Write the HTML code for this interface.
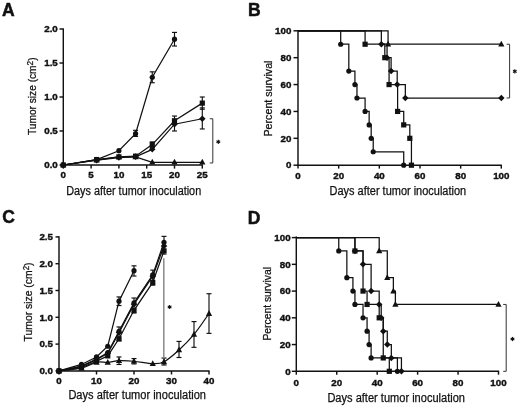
<!DOCTYPE html>
<html><head><meta charset="utf-8"><style>
html,body{margin:0;padding:0;background:#fff;}
svg{display:block;font-family:'Liberation Sans', sans-serif;will-change:transform;}
text{fill:#111;}
</style></head><body>
<svg width="520" height="406" viewBox="0 0 520 406">
<rect width="520" height="406" fill="#fff"/>
<line x1="63.30" y1="28.40" x2="63.30" y2="165.60" stroke="#111" stroke-width="1.45"/>
<line x1="62.70" y1="165.00" x2="202.90" y2="165.00" stroke="#111" stroke-width="1.45"/>
<line x1="59.50" y1="165.00" x2="63.30" y2="165.00" stroke="#111" stroke-width="1.45"/>
<text x="0.00" y="0.00" font-size="9.8" text-anchor="end" font-weight="bold" transform="translate(57.80 168.25) scale(1 0.97)" stroke="#111" stroke-width="0.4">0.0</text>
<line x1="59.50" y1="131.00" x2="63.30" y2="131.00" stroke="#111" stroke-width="1.45"/>
<text x="0.00" y="0.00" font-size="9.8" text-anchor="end" font-weight="bold" transform="translate(57.80 134.25) scale(1 0.97)" stroke="#111" stroke-width="0.4">0.5</text>
<line x1="59.50" y1="97.00" x2="63.30" y2="97.00" stroke="#111" stroke-width="1.45"/>
<text x="0.00" y="0.00" font-size="9.8" text-anchor="end" font-weight="bold" transform="translate(57.80 100.25) scale(1 0.97)" stroke="#111" stroke-width="0.4">1.0</text>
<line x1="59.50" y1="63.00" x2="63.30" y2="63.00" stroke="#111" stroke-width="1.45"/>
<text x="0.00" y="0.00" font-size="9.8" text-anchor="end" font-weight="bold" transform="translate(57.80 66.25) scale(1 0.97)" stroke="#111" stroke-width="0.4">1.5</text>
<line x1="59.50" y1="29.00" x2="63.30" y2="29.00" stroke="#111" stroke-width="1.45"/>
<text x="0.00" y="0.00" font-size="9.8" text-anchor="end" font-weight="bold" transform="translate(57.80 32.25) scale(1 0.97)" stroke="#111" stroke-width="0.4">2.0</text>
<line x1="63.30" y1="165.00" x2="63.30" y2="168.60" stroke="#111" stroke-width="1.45"/>
<text x="0.00" y="0.00" font-size="9.8" text-anchor="middle" font-weight="bold" transform="translate(63.30 177.90) scale(1 0.97)" stroke="#111" stroke-width="0.4">0</text>
<line x1="91.10" y1="165.00" x2="91.10" y2="168.60" stroke="#111" stroke-width="1.45"/>
<text x="0.00" y="0.00" font-size="9.8" text-anchor="middle" font-weight="bold" transform="translate(91.10 177.90) scale(1 0.97)" stroke="#111" stroke-width="0.4">5</text>
<line x1="118.90" y1="165.00" x2="118.90" y2="168.60" stroke="#111" stroke-width="1.45"/>
<text x="0.00" y="0.00" font-size="9.8" text-anchor="middle" font-weight="bold" transform="translate(118.90 177.90) scale(1 0.97)" stroke="#111" stroke-width="0.4">10</text>
<line x1="146.70" y1="165.00" x2="146.70" y2="168.60" stroke="#111" stroke-width="1.45"/>
<text x="0.00" y="0.00" font-size="9.8" text-anchor="middle" font-weight="bold" transform="translate(146.70 177.90) scale(1 0.97)" stroke="#111" stroke-width="0.4">15</text>
<line x1="174.50" y1="165.00" x2="174.50" y2="168.60" stroke="#111" stroke-width="1.45"/>
<text x="0.00" y="0.00" font-size="9.8" text-anchor="middle" font-weight="bold" transform="translate(174.50 177.90) scale(1 0.97)" stroke="#111" stroke-width="0.4">20</text>
<line x1="202.30" y1="165.00" x2="202.30" y2="168.60" stroke="#111" stroke-width="1.45"/>
<text x="0.00" y="0.00" font-size="9.8" text-anchor="middle" font-weight="bold" transform="translate(202.30 177.90) scale(1 0.97)" stroke="#111" stroke-width="0.4">25</text>
<text x="66.20" y="194.60" font-size="12" text-anchor="start" font-weight="normal" textLength="135" lengthAdjust="spacingAndGlyphs" stroke="#111" stroke-width="0.25">Days after tumor inoculation</text>
<text transform="translate(35.8,96.2) rotate(-90)" font-size="10" text-anchor="middle" textLength="77.5" lengthAdjust="spacingAndGlyphs" stroke="#111" stroke-width="0.25">Tumor size (cm<tspan font-size="8.2" dy="-2.6">2</tspan><tspan dy="2.6">)</tspan></text>
<polyline points="63.30,165.00 96.66,159.56 118.90,150.72 135.58,133.72 152.26,77.28 174.50,39.20" fill="none" stroke="#111" stroke-width="1.25" stroke-linejoin="miter"/>
<polyline points="63.30,165.00 96.66,159.56 118.90,156.84 135.58,156.16 152.26,144.60 174.50,120.80 202.30,103.12" fill="none" stroke="#111" stroke-width="1.25" stroke-linejoin="miter"/>
<polyline points="63.30,165.00 96.66,160.24 118.90,157.52 135.58,156.84 152.26,149.36 174.50,124.20 202.30,118.76" fill="none" stroke="#111" stroke-width="1.25" stroke-linejoin="miter"/>
<polyline points="63.30,165.00 96.66,160.24 118.90,156.84 135.58,156.84 152.26,162.28 174.50,162.28 202.30,162.28" fill="none" stroke="#111" stroke-width="1.25" stroke-linejoin="miter"/>
<line x1="135.58" y1="130.32" x2="135.58" y2="136.44" stroke="#111" stroke-width="1.15"/>
<line x1="133.08" y1="130.32" x2="138.08" y2="130.32" stroke="#111" stroke-width="1.15"/>
<line x1="133.08" y1="136.44" x2="138.08" y2="136.44" stroke="#111" stroke-width="1.15"/>
<line x1="152.26" y1="71.84" x2="152.26" y2="82.72" stroke="#111" stroke-width="1.15"/>
<line x1="149.76" y1="71.84" x2="154.76" y2="71.84" stroke="#111" stroke-width="1.15"/>
<line x1="149.76" y1="82.72" x2="154.76" y2="82.72" stroke="#111" stroke-width="1.15"/>
<line x1="174.50" y1="32.40" x2="174.50" y2="46.00" stroke="#111" stroke-width="1.15"/>
<line x1="172.00" y1="32.40" x2="177.00" y2="32.40" stroke="#111" stroke-width="1.15"/>
<line x1="172.00" y1="46.00" x2="177.00" y2="46.00" stroke="#111" stroke-width="1.15"/>
<line x1="174.50" y1="116.04" x2="174.50" y2="131.00" stroke="#111" stroke-width="1.15"/>
<line x1="172.00" y1="116.04" x2="177.00" y2="116.04" stroke="#111" stroke-width="1.15"/>
<line x1="172.00" y1="131.00" x2="177.00" y2="131.00" stroke="#111" stroke-width="1.15"/>
<line x1="202.30" y1="97.00" x2="202.30" y2="109.24" stroke="#111" stroke-width="1.15"/>
<line x1="199.80" y1="97.00" x2="204.80" y2="97.00" stroke="#111" stroke-width="1.15"/>
<line x1="199.80" y1="109.24" x2="204.80" y2="109.24" stroke="#111" stroke-width="1.15"/>
<line x1="202.30" y1="107.88" x2="202.30" y2="128.96" stroke="#111" stroke-width="1.15"/>
<line x1="199.80" y1="107.88" x2="204.80" y2="107.88" stroke="#111" stroke-width="1.15"/>
<line x1="199.80" y1="128.96" x2="204.80" y2="128.96" stroke="#111" stroke-width="1.15"/>
<line x1="152.26" y1="141.88" x2="152.26" y2="147.32" stroke="#111" stroke-width="1.15"/>
<line x1="149.76" y1="141.88" x2="154.76" y2="141.88" stroke="#111" stroke-width="1.15"/>
<line x1="149.76" y1="147.32" x2="154.76" y2="147.32" stroke="#111" stroke-width="1.15"/>
<path d="M63.30,161.57L66.42,167.34L60.18,167.34Z" fill="#111"/>
<path d="M96.66,156.81L99.78,162.58L93.54,162.58Z" fill="#111"/>
<path d="M118.90,153.41L122.02,159.18L115.78,159.18Z" fill="#111"/>
<path d="M135.58,153.41L138.70,159.18L132.46,159.18Z" fill="#111"/>
<path d="M152.26,158.85L155.38,164.62L149.14,164.62Z" fill="#111"/>
<path d="M174.50,158.85L177.62,164.62L171.38,164.62Z" fill="#111"/>
<path d="M202.30,158.85L205.42,164.62L199.18,164.62Z" fill="#111"/>
<path d="M63.30,161.75L66.55,165.00L63.30,168.25L60.05,165.00Z" fill="#111"/>
<path d="M96.66,156.99L99.91,160.24L96.66,163.49L93.41,160.24Z" fill="#111"/>
<path d="M118.90,154.27L122.15,157.52L118.90,160.77L115.65,157.52Z" fill="#111"/>
<path d="M135.58,153.59L138.83,156.84L135.58,160.09L132.33,156.84Z" fill="#111"/>
<path d="M152.26,146.11L155.51,149.36L152.26,152.61L149.01,149.36Z" fill="#111"/>
<path d="M174.50,120.95L177.75,124.20L174.50,127.45L171.25,124.20Z" fill="#111"/>
<path d="M202.30,115.51L205.55,118.76L202.30,122.01L199.05,118.76Z" fill="#111"/>
<rect x="60.70" y="162.40" width="5.20" height="5.20" fill="#111"/>
<rect x="94.06" y="156.96" width="5.20" height="5.20" fill="#111"/>
<rect x="116.30" y="154.24" width="5.20" height="5.20" fill="#111"/>
<rect x="132.98" y="153.56" width="5.20" height="5.20" fill="#111"/>
<rect x="149.66" y="142.00" width="5.20" height="5.20" fill="#111"/>
<rect x="171.90" y="118.20" width="5.20" height="5.20" fill="#111"/>
<rect x="199.70" y="100.52" width="5.20" height="5.20" fill="#111"/>
<circle cx="63.30" cy="165.00" r="2.60" fill="#111"/>
<circle cx="96.66" cy="159.56" r="2.60" fill="#111"/>
<circle cx="118.90" cy="150.72" r="2.60" fill="#111"/>
<circle cx="135.58" cy="133.72" r="2.60" fill="#111"/>
<circle cx="152.26" cy="77.28" r="2.60" fill="#111"/>
<circle cx="174.50" cy="39.20" r="2.60" fill="#111"/>
<polyline points="209.80,118.76 212.80,118.76 212.80,162.96 209.80,162.96" fill="none" stroke="#333" stroke-width="1.0" stroke-linejoin="miter"/>
<line x1="218.30" y1="139.70" x2="218.30" y2="143.90" stroke="#111" stroke-width="1.1"/>
<line x1="216.48" y1="140.75" x2="220.12" y2="142.85" stroke="#111" stroke-width="1.1"/>
<line x1="220.12" y1="140.75" x2="216.48" y2="142.85" stroke="#111" stroke-width="1.1"/>
<line x1="298.00" y1="30.20" x2="298.00" y2="165.80" stroke="#111" stroke-width="1.45"/>
<line x1="297.40" y1="165.20" x2="501.90" y2="165.20" stroke="#111" stroke-width="1.45"/>
<line x1="293.50" y1="165.20" x2="298.00" y2="165.20" stroke="#111" stroke-width="1.45"/>
<text x="0.00" y="0.00" font-size="9.8" text-anchor="end" font-weight="bold" transform="translate(291.40 168.45) scale(1 0.97)" stroke="#111" stroke-width="0.4">0</text>
<line x1="293.50" y1="138.32" x2="298.00" y2="138.32" stroke="#111" stroke-width="1.45"/>
<text x="0.00" y="0.00" font-size="9.8" text-anchor="end" font-weight="bold" transform="translate(291.40 141.57) scale(1 0.97)" stroke="#111" stroke-width="0.4">20</text>
<line x1="293.50" y1="111.44" x2="298.00" y2="111.44" stroke="#111" stroke-width="1.45"/>
<text x="0.00" y="0.00" font-size="9.8" text-anchor="end" font-weight="bold" transform="translate(291.40 114.69) scale(1 0.97)" stroke="#111" stroke-width="0.4">40</text>
<line x1="293.50" y1="84.56" x2="298.00" y2="84.56" stroke="#111" stroke-width="1.45"/>
<text x="0.00" y="0.00" font-size="9.8" text-anchor="end" font-weight="bold" transform="translate(291.40 87.81) scale(1 0.97)" stroke="#111" stroke-width="0.4">60</text>
<line x1="293.50" y1="57.68" x2="298.00" y2="57.68" stroke="#111" stroke-width="1.45"/>
<text x="0.00" y="0.00" font-size="9.8" text-anchor="end" font-weight="bold" transform="translate(291.40 60.93) scale(1 0.97)" stroke="#111" stroke-width="0.4">80</text>
<line x1="293.50" y1="30.80" x2="298.00" y2="30.80" stroke="#111" stroke-width="1.45"/>
<text x="0.00" y="0.00" font-size="9.8" text-anchor="end" font-weight="bold" transform="translate(291.40 34.05) scale(1 0.97)" stroke="#111" stroke-width="0.4">100</text>
<line x1="298.00" y1="165.20" x2="298.00" y2="168.60" stroke="#111" stroke-width="1.45"/>
<text x="0.00" y="0.00" font-size="9.8" text-anchor="middle" font-weight="bold" transform="translate(298.00 179.40) scale(1 0.97)" stroke="#111" stroke-width="0.4">0</text>
<line x1="338.66" y1="165.20" x2="338.66" y2="168.60" stroke="#111" stroke-width="1.45"/>
<text x="0.00" y="0.00" font-size="9.8" text-anchor="middle" font-weight="bold" transform="translate(338.66 179.40) scale(1 0.97)" stroke="#111" stroke-width="0.4">20</text>
<line x1="379.32" y1="165.20" x2="379.32" y2="168.60" stroke="#111" stroke-width="1.45"/>
<text x="0.00" y="0.00" font-size="9.8" text-anchor="middle" font-weight="bold" transform="translate(379.32 179.40) scale(1 0.97)" stroke="#111" stroke-width="0.4">40</text>
<line x1="419.98" y1="165.20" x2="419.98" y2="168.60" stroke="#111" stroke-width="1.45"/>
<text x="0.00" y="0.00" font-size="9.8" text-anchor="middle" font-weight="bold" transform="translate(419.98 179.40) scale(1 0.97)" stroke="#111" stroke-width="0.4">60</text>
<line x1="460.64" y1="165.20" x2="460.64" y2="168.60" stroke="#111" stroke-width="1.45"/>
<text x="0.00" y="0.00" font-size="9.8" text-anchor="middle" font-weight="bold" transform="translate(460.64 179.40) scale(1 0.97)" stroke="#111" stroke-width="0.4">80</text>
<line x1="501.30" y1="165.20" x2="501.30" y2="168.60" stroke="#111" stroke-width="1.45"/>
<text x="0.00" y="0.00" font-size="9.8" text-anchor="middle" font-weight="bold" transform="translate(501.30 179.40) scale(1 0.97)" stroke="#111" stroke-width="0.4">100</text>
<text x="329.60" y="194.90" font-size="12" text-anchor="start" font-weight="normal" textLength="136.5" lengthAdjust="spacingAndGlyphs" stroke="#111" stroke-width="0.25">Days after tumor inoculation</text>
<text x="272.30" y="98.50" font-size="10.3" text-anchor="middle" font-weight="normal" transform="rotate(-90 272.30 98.50)" textLength="76" lengthAdjust="spacingAndGlyphs" stroke="#111" stroke-width="0.25">Percent survival</text>
<polyline points="298.00,30.80 340.69,30.80 340.69,44.24 348.82,44.24 348.82,71.12 354.92,71.12 354.92,84.56 356.96,84.56 356.96,98.00 365.09,98.00 365.09,111.44 369.15,111.44 369.15,124.88 371.19,124.88 371.19,138.32 373.22,138.32 373.22,151.76 403.72,151.76 403.72,165.20" fill="none" stroke="#111" stroke-width="1.25" stroke-linejoin="miter"/>
<polyline points="298.00,30.80 365.09,30.80 365.09,44.24 384.81,44.24 384.81,57.68 389.08,57.68 389.08,84.56 397.62,84.56 397.62,111.44 403.72,111.44 403.72,124.88 409.81,124.88 409.81,138.32 411.44,138.32 411.44,165.20" fill="none" stroke="#111" stroke-width="1.25" stroke-linejoin="miter"/>
<polyline points="298.00,30.80 381.35,30.80 381.35,44.24 387.05,44.24 387.05,57.68 391.11,57.68 391.11,71.12 397.21,71.12 397.21,84.56 405.34,84.56 405.34,98.00 501.30,98.00" fill="none" stroke="#111" stroke-width="1.25" stroke-linejoin="miter"/>
<polyline points="298.00,30.80 388.06,30.80 388.06,44.24 501.30,44.24" fill="none" stroke="#111" stroke-width="1.25" stroke-linejoin="miter"/>
<circle cx="340.69" cy="44.24" r="2.60" fill="#111"/>
<circle cx="348.82" cy="71.12" r="2.60" fill="#111"/>
<circle cx="354.92" cy="84.56" r="2.60" fill="#111"/>
<circle cx="356.96" cy="98.00" r="2.60" fill="#111"/>
<circle cx="365.09" cy="111.44" r="2.60" fill="#111"/>
<circle cx="369.15" cy="124.88" r="2.60" fill="#111"/>
<circle cx="371.19" cy="138.32" r="2.60" fill="#111"/>
<circle cx="373.22" cy="151.76" r="2.60" fill="#111"/>
<circle cx="403.72" cy="165.20" r="2.60" fill="#111"/>
<rect x="362.49" y="41.64" width="5.20" height="5.20" fill="#111"/>
<rect x="382.21" y="55.08" width="5.20" height="5.20" fill="#111"/>
<rect x="386.48" y="81.96" width="5.20" height="5.20" fill="#111"/>
<rect x="395.02" y="108.84" width="5.20" height="5.20" fill="#111"/>
<rect x="401.12" y="122.28" width="5.20" height="5.20" fill="#111"/>
<rect x="407.21" y="135.72" width="5.20" height="5.20" fill="#111"/>
<rect x="408.84" y="162.60" width="5.20" height="5.20" fill="#111"/>
<path d="M381.35,40.99L384.60,44.24L381.35,47.49L378.10,44.24Z" fill="#111"/>
<path d="M387.05,54.43L390.30,57.68L387.05,60.93L383.80,57.68Z" fill="#111"/>
<path d="M391.11,67.87L394.36,71.12L391.11,74.37L387.86,71.12Z" fill="#111"/>
<path d="M397.21,81.31L400.46,84.56L397.21,87.81L393.96,84.56Z" fill="#111"/>
<path d="M405.34,94.75L408.59,98.00L405.34,101.25L402.09,98.00Z" fill="#111"/>
<path d="M501.30,94.75L504.55,98.00L501.30,101.25L498.05,98.00Z" fill="#111"/>
<path d="M388.06,40.81L391.18,46.58L384.94,46.58Z" fill="#111"/>
<path d="M501.30,40.81L504.42,46.58L498.18,46.58Z" fill="#111"/>
<polyline points="506.60,44.24 509.60,44.24 509.60,98.00 506.60,98.00" fill="none" stroke="#333" stroke-width="1.0" stroke-linejoin="miter"/>
<line x1="514.80" y1="69.30" x2="514.80" y2="73.50" stroke="#111" stroke-width="1.1"/>
<line x1="512.98" y1="70.35" x2="516.62" y2="72.45" stroke="#111" stroke-width="1.1"/>
<line x1="516.62" y1="70.35" x2="512.98" y2="72.45" stroke="#111" stroke-width="1.1"/>
<line x1="59.00" y1="236.30" x2="59.00" y2="371.50" stroke="#111" stroke-width="1.45"/>
<line x1="58.40" y1="370.90" x2="209.60" y2="370.90" stroke="#111" stroke-width="1.45"/>
<line x1="55.50" y1="370.90" x2="59.00" y2="370.90" stroke="#111" stroke-width="1.45"/>
<text x="0.00" y="0.00" font-size="9.8" text-anchor="end" font-weight="bold" transform="translate(53.00 374.15) scale(1 0.97)" stroke="#111" stroke-width="0.4">0.0</text>
<line x1="55.50" y1="344.10" x2="59.00" y2="344.10" stroke="#111" stroke-width="1.45"/>
<text x="0.00" y="0.00" font-size="9.8" text-anchor="end" font-weight="bold" transform="translate(53.00 347.35) scale(1 0.97)" stroke="#111" stroke-width="0.4">0.5</text>
<line x1="55.50" y1="317.30" x2="59.00" y2="317.30" stroke="#111" stroke-width="1.45"/>
<text x="0.00" y="0.00" font-size="9.8" text-anchor="end" font-weight="bold" transform="translate(53.00 320.55) scale(1 0.97)" stroke="#111" stroke-width="0.4">1.0</text>
<line x1="55.50" y1="290.50" x2="59.00" y2="290.50" stroke="#111" stroke-width="1.45"/>
<text x="0.00" y="0.00" font-size="9.8" text-anchor="end" font-weight="bold" transform="translate(53.00 293.75) scale(1 0.97)" stroke="#111" stroke-width="0.4">1.5</text>
<line x1="55.50" y1="263.70" x2="59.00" y2="263.70" stroke="#111" stroke-width="1.45"/>
<text x="0.00" y="0.00" font-size="9.8" text-anchor="end" font-weight="bold" transform="translate(53.00 266.95) scale(1 0.97)" stroke="#111" stroke-width="0.4">2.0</text>
<line x1="55.50" y1="236.90" x2="59.00" y2="236.90" stroke="#111" stroke-width="1.45"/>
<text x="0.00" y="0.00" font-size="9.8" text-anchor="end" font-weight="bold" transform="translate(53.00 240.15) scale(1 0.97)" stroke="#111" stroke-width="0.4">2.5</text>
<line x1="59.00" y1="370.90" x2="59.00" y2="374.50" stroke="#111" stroke-width="1.45"/>
<text x="0.00" y="0.00" font-size="9.8" text-anchor="middle" font-weight="bold" transform="translate(59.00 383.90) scale(1 0.97)" stroke="#111" stroke-width="0.4">0</text>
<line x1="96.50" y1="370.90" x2="96.50" y2="374.50" stroke="#111" stroke-width="1.45"/>
<text x="0.00" y="0.00" font-size="9.8" text-anchor="middle" font-weight="bold" transform="translate(96.50 383.90) scale(1 0.97)" stroke="#111" stroke-width="0.4">10</text>
<line x1="134.00" y1="370.90" x2="134.00" y2="374.50" stroke="#111" stroke-width="1.45"/>
<text x="0.00" y="0.00" font-size="9.8" text-anchor="middle" font-weight="bold" transform="translate(134.00 383.90) scale(1 0.97)" stroke="#111" stroke-width="0.4">20</text>
<line x1="171.50" y1="370.90" x2="171.50" y2="374.50" stroke="#111" stroke-width="1.45"/>
<text x="0.00" y="0.00" font-size="9.8" text-anchor="middle" font-weight="bold" transform="translate(171.50 383.90) scale(1 0.97)" stroke="#111" stroke-width="0.4">30</text>
<line x1="209.00" y1="370.90" x2="209.00" y2="374.50" stroke="#111" stroke-width="1.45"/>
<text x="0.00" y="0.00" font-size="9.8" text-anchor="middle" font-weight="bold" transform="translate(209.00 383.90) scale(1 0.97)" stroke="#111" stroke-width="0.4">40</text>
<text x="68.40" y="398.60" font-size="12" text-anchor="start" font-weight="normal" textLength="137.6" lengthAdjust="spacingAndGlyphs" stroke="#111" stroke-width="0.25">Days after tumor inoculation</text>
<text transform="translate(32.0,302) rotate(-90)" font-size="10.8" text-anchor="middle" textLength="79" lengthAdjust="spacingAndGlyphs" stroke="#111" stroke-width="0.25">Tumor size (cm<tspan font-size="8.2" dy="-2.6">2</tspan><tspan dy="2.6">)</tspan></text>
<polyline points="59.00,370.90 81.50,364.47 96.50,356.96 107.75,346.24 119.00,301.22 134.00,270.67" fill="none" stroke="#111" stroke-width="1.25" stroke-linejoin="miter"/>
<polyline points="59.00,370.90 81.50,366.08 96.50,359.11 107.75,352.68 119.00,331.24 134.00,302.83 152.75,274.96 164.00,242.26" fill="none" stroke="#111" stroke-width="1.25" stroke-linejoin="miter"/>
<polyline points="59.00,370.90 81.50,366.61 96.50,359.64 107.75,353.21 119.00,332.58 134.00,304.17 152.75,276.30 164.00,246.01" fill="none" stroke="#111" stroke-width="1.25" stroke-linejoin="miter"/>
<polyline points="59.00,370.90 81.50,367.68 96.50,361.25 107.75,355.89 119.00,338.74 134.00,310.33 152.75,282.46 164.00,250.84" fill="none" stroke="#111" stroke-width="1.25" stroke-linejoin="miter"/>
<path d="M59.00,370.90 C62.75,370.45 75.25,369.65 81.50,368.22 C87.75,366.79 92.12,363.31 96.50,362.32 C100.88,361.34 104.00,362.59 107.75,362.32 C111.50,362.06 114.62,360.89 119.00,360.72 C123.38,360.54 128.38,360.76 134.00,361.25 C139.62,361.74 147.75,363.57 152.75,363.66 C157.75,363.75 159.62,364.07 164.00,361.79 C168.38,359.51 174.00,354.55 179.00,350.00 C184.00,345.44 189.00,340.53 194.00,334.45 C199.00,328.38 206.50,317.03 209.00,313.55" fill="none" stroke="#111" stroke-width="1.25"/>
<line x1="119.00" y1="296.93" x2="119.00" y2="305.51" stroke="#111" stroke-width="1.15"/>
<line x1="116.50" y1="296.93" x2="121.50" y2="296.93" stroke="#111" stroke-width="1.15"/>
<line x1="116.50" y1="305.51" x2="121.50" y2="305.51" stroke="#111" stroke-width="1.15"/>
<line x1="134.00" y1="265.84" x2="134.00" y2="276.03" stroke="#111" stroke-width="1.15"/>
<line x1="131.50" y1="265.84" x2="136.50" y2="265.84" stroke="#111" stroke-width="1.15"/>
<line x1="131.50" y1="276.03" x2="136.50" y2="276.03" stroke="#111" stroke-width="1.15"/>
<line x1="164.00" y1="236.36" x2="164.00" y2="254.05" stroke="#111" stroke-width="1.15"/>
<line x1="161.50" y1="236.36" x2="166.50" y2="236.36" stroke="#111" stroke-width="1.15"/>
<line x1="161.50" y1="254.05" x2="166.50" y2="254.05" stroke="#111" stroke-width="1.15"/>
<line x1="152.75" y1="270.13" x2="152.75" y2="285.14" stroke="#111" stroke-width="1.15"/>
<line x1="150.25" y1="270.13" x2="155.25" y2="270.13" stroke="#111" stroke-width="1.15"/>
<line x1="150.25" y1="285.14" x2="155.25" y2="285.14" stroke="#111" stroke-width="1.15"/>
<line x1="134.00" y1="298.00" x2="134.00" y2="313.01" stroke="#111" stroke-width="1.15"/>
<line x1="131.50" y1="298.00" x2="136.50" y2="298.00" stroke="#111" stroke-width="1.15"/>
<line x1="131.50" y1="313.01" x2="136.50" y2="313.01" stroke="#111" stroke-width="1.15"/>
<line x1="119.00" y1="326.95" x2="119.00" y2="340.88" stroke="#111" stroke-width="1.15"/>
<line x1="116.50" y1="326.95" x2="121.50" y2="326.95" stroke="#111" stroke-width="1.15"/>
<line x1="116.50" y1="340.88" x2="121.50" y2="340.88" stroke="#111" stroke-width="1.15"/>
<line x1="119.00" y1="356.96" x2="119.00" y2="364.47" stroke="#111" stroke-width="1.15"/>
<line x1="116.50" y1="356.96" x2="121.50" y2="356.96" stroke="#111" stroke-width="1.15"/>
<line x1="116.50" y1="364.47" x2="121.50" y2="364.47" stroke="#111" stroke-width="1.15"/>
<line x1="134.00" y1="358.57" x2="134.00" y2="363.93" stroke="#111" stroke-width="1.15"/>
<line x1="131.50" y1="358.57" x2="136.50" y2="358.57" stroke="#111" stroke-width="1.15"/>
<line x1="131.50" y1="363.93" x2="136.50" y2="363.93" stroke="#111" stroke-width="1.15"/>
<line x1="164.00" y1="358.04" x2="164.00" y2="365.00" stroke="#111" stroke-width="1.15"/>
<line x1="161.50" y1="358.04" x2="166.50" y2="358.04" stroke="#111" stroke-width="1.15"/>
<line x1="161.50" y1="365.00" x2="166.50" y2="365.00" stroke="#111" stroke-width="1.15"/>
<line x1="179.00" y1="341.42" x2="179.00" y2="357.50" stroke="#111" stroke-width="1.15"/>
<line x1="176.50" y1="341.42" x2="181.50" y2="341.42" stroke="#111" stroke-width="1.15"/>
<line x1="176.50" y1="357.50" x2="181.50" y2="357.50" stroke="#111" stroke-width="1.15"/>
<line x1="194.00" y1="321.59" x2="194.00" y2="347.32" stroke="#111" stroke-width="1.15"/>
<line x1="191.50" y1="321.59" x2="196.50" y2="321.59" stroke="#111" stroke-width="1.15"/>
<line x1="191.50" y1="347.32" x2="196.50" y2="347.32" stroke="#111" stroke-width="1.15"/>
<line x1="209.00" y1="293.72" x2="209.00" y2="333.38" stroke="#111" stroke-width="1.15"/>
<line x1="206.50" y1="293.72" x2="211.50" y2="293.72" stroke="#111" stroke-width="1.15"/>
<line x1="206.50" y1="333.38" x2="211.50" y2="333.38" stroke="#111" stroke-width="1.15"/>
<path d="M59.00,367.47L62.12,373.24L55.88,373.24Z" fill="#111"/>
<path d="M81.50,364.79L84.62,370.56L78.38,370.56Z" fill="#111"/>
<path d="M96.50,358.89L99.62,364.66L93.38,364.66Z" fill="#111"/>
<path d="M107.75,358.89L110.87,364.66L104.63,364.66Z" fill="#111"/>
<path d="M119.00,357.28L122.12,363.06L115.88,363.06Z" fill="#111"/>
<path d="M134.00,357.82L137.12,363.59L130.88,363.59Z" fill="#111"/>
<path d="M152.75,360.23L155.87,366.00L149.63,366.00Z" fill="#111"/>
<path d="M164.00,358.36L167.12,364.13L160.88,364.13Z" fill="#111"/>
<path d="M179.00,346.56L182.12,352.34L175.88,352.34Z" fill="#111"/>
<path d="M194.00,331.02L197.12,336.79L190.88,336.79Z" fill="#111"/>
<path d="M209.00,310.12L212.12,315.89L205.88,315.89Z" fill="#111"/>
<rect x="56.40" y="368.30" width="5.20" height="5.20" fill="#111"/>
<rect x="78.90" y="365.08" width="5.20" height="5.20" fill="#111"/>
<rect x="93.90" y="358.65" width="5.20" height="5.20" fill="#111"/>
<rect x="105.15" y="353.29" width="5.20" height="5.20" fill="#111"/>
<rect x="116.40" y="336.14" width="5.20" height="5.20" fill="#111"/>
<rect x="131.40" y="307.73" width="5.20" height="5.20" fill="#111"/>
<rect x="150.15" y="279.86" width="5.20" height="5.20" fill="#111"/>
<rect x="161.40" y="248.24" width="5.20" height="5.20" fill="#111"/>
<path d="M59.00,367.65L62.25,370.90L59.00,374.15L55.75,370.90Z" fill="#111"/>
<path d="M81.50,363.36L84.75,366.61L81.50,369.86L78.25,366.61Z" fill="#111"/>
<path d="M96.50,356.39L99.75,359.64L96.50,362.89L93.25,359.64Z" fill="#111"/>
<path d="M107.75,349.96L111.00,353.21L107.75,356.46L104.50,353.21Z" fill="#111"/>
<path d="M119.00,329.33L122.25,332.58L119.00,335.83L115.75,332.58Z" fill="#111"/>
<path d="M134.00,300.92L137.25,304.17L134.00,307.42L130.75,304.17Z" fill="#111"/>
<path d="M152.75,273.05L156.00,276.30L152.75,279.55L149.50,276.30Z" fill="#111"/>
<path d="M164.00,242.76L167.25,246.01L164.00,249.26L160.75,246.01Z" fill="#111"/>
<circle cx="59.00" cy="370.90" r="2.60" fill="#111"/>
<circle cx="81.50" cy="366.08" r="2.60" fill="#111"/>
<circle cx="96.50" cy="359.11" r="2.60" fill="#111"/>
<circle cx="107.75" cy="352.68" r="2.60" fill="#111"/>
<circle cx="119.00" cy="331.24" r="2.60" fill="#111"/>
<circle cx="134.00" cy="302.83" r="2.60" fill="#111"/>
<circle cx="152.75" cy="274.96" r="2.60" fill="#111"/>
<circle cx="164.00" cy="242.26" r="2.60" fill="#111"/>
<circle cx="59.00" cy="370.90" r="2.60" fill="#111"/>
<circle cx="81.50" cy="364.47" r="2.60" fill="#111"/>
<circle cx="96.50" cy="356.96" r="2.60" fill="#111"/>
<circle cx="107.75" cy="346.24" r="2.60" fill="#111"/>
<circle cx="119.00" cy="301.22" r="2.60" fill="#111"/>
<circle cx="134.00" cy="270.67" r="2.60" fill="#111"/>
<line x1="163.80" y1="258.30" x2="163.80" y2="358.50" stroke="#8a8a8a" stroke-width="1.5"/>
<line x1="169.60" y1="304.90" x2="169.60" y2="309.10" stroke="#111" stroke-width="1.1"/>
<line x1="167.78" y1="305.95" x2="171.42" y2="308.05" stroke="#111" stroke-width="1.1"/>
<line x1="171.42" y1="305.95" x2="167.78" y2="308.05" stroke="#111" stroke-width="1.1"/>
<line x1="296.30" y1="236.40" x2="296.30" y2="371.90" stroke="#111" stroke-width="1.45"/>
<line x1="295.70" y1="371.30" x2="499.10" y2="371.30" stroke="#111" stroke-width="1.45"/>
<line x1="291.80" y1="371.30" x2="296.30" y2="371.30" stroke="#111" stroke-width="1.45"/>
<text x="0.00" y="0.00" font-size="9.8" text-anchor="end" font-weight="bold" transform="translate(290.60 374.55) scale(1 0.97)" stroke="#111" stroke-width="0.4">0</text>
<line x1="291.80" y1="344.56" x2="296.30" y2="344.56" stroke="#111" stroke-width="1.45"/>
<text x="0.00" y="0.00" font-size="9.8" text-anchor="end" font-weight="bold" transform="translate(290.60 347.81) scale(1 0.97)" stroke="#111" stroke-width="0.4">20</text>
<line x1="291.80" y1="317.82" x2="296.30" y2="317.82" stroke="#111" stroke-width="1.45"/>
<text x="0.00" y="0.00" font-size="9.8" text-anchor="end" font-weight="bold" transform="translate(290.60 321.07) scale(1 0.97)" stroke="#111" stroke-width="0.4">40</text>
<line x1="291.80" y1="291.08" x2="296.30" y2="291.08" stroke="#111" stroke-width="1.45"/>
<text x="0.00" y="0.00" font-size="9.8" text-anchor="end" font-weight="bold" transform="translate(290.60 294.33) scale(1 0.97)" stroke="#111" stroke-width="0.4">60</text>
<line x1="291.80" y1="264.34" x2="296.30" y2="264.34" stroke="#111" stroke-width="1.45"/>
<text x="0.00" y="0.00" font-size="9.8" text-anchor="end" font-weight="bold" transform="translate(290.60 267.59) scale(1 0.97)" stroke="#111" stroke-width="0.4">80</text>
<line x1="291.80" y1="237.60" x2="296.30" y2="237.60" stroke="#111" stroke-width="1.45"/>
<text x="0.00" y="0.00" font-size="9.8" text-anchor="end" font-weight="bold" transform="translate(290.60 240.85) scale(1 0.97)" stroke="#111" stroke-width="0.4">100</text>
<line x1="296.30" y1="371.30" x2="296.30" y2="374.70" stroke="#111" stroke-width="1.45"/>
<text x="0.00" y="0.00" font-size="9.8" text-anchor="middle" font-weight="bold" transform="translate(296.30 385.90) scale(1 0.97)" stroke="#111" stroke-width="0.4">0</text>
<line x1="336.74" y1="371.30" x2="336.74" y2="374.70" stroke="#111" stroke-width="1.45"/>
<text x="0.00" y="0.00" font-size="9.8" text-anchor="middle" font-weight="bold" transform="translate(336.74 385.90) scale(1 0.97)" stroke="#111" stroke-width="0.4">20</text>
<line x1="377.18" y1="371.30" x2="377.18" y2="374.70" stroke="#111" stroke-width="1.45"/>
<text x="0.00" y="0.00" font-size="9.8" text-anchor="middle" font-weight="bold" transform="translate(377.18 385.90) scale(1 0.97)" stroke="#111" stroke-width="0.4">40</text>
<line x1="417.62" y1="371.30" x2="417.62" y2="374.70" stroke="#111" stroke-width="1.45"/>
<text x="0.00" y="0.00" font-size="9.8" text-anchor="middle" font-weight="bold" transform="translate(417.62 385.90) scale(1 0.97)" stroke="#111" stroke-width="0.4">60</text>
<line x1="458.06" y1="371.30" x2="458.06" y2="374.70" stroke="#111" stroke-width="1.45"/>
<text x="0.00" y="0.00" font-size="9.8" text-anchor="middle" font-weight="bold" transform="translate(458.06 385.90) scale(1 0.97)" stroke="#111" stroke-width="0.4">80</text>
<line x1="498.50" y1="371.30" x2="498.50" y2="374.70" stroke="#111" stroke-width="1.45"/>
<text x="0.00" y="0.00" font-size="9.8" text-anchor="middle" font-weight="bold" transform="translate(498.50 385.90) scale(1 0.97)" stroke="#111" stroke-width="0.4">100</text>
<text x="327.40" y="402.30" font-size="12" text-anchor="start" font-weight="normal" textLength="137.6" lengthAdjust="spacingAndGlyphs" stroke="#111" stroke-width="0.25">Days after tumor inoculation</text>
<text x="270.80" y="303.80" font-size="10.3" text-anchor="middle" font-weight="normal" transform="rotate(-90 270.80 303.80)" textLength="73.5" lengthAdjust="spacingAndGlyphs" stroke="#111" stroke-width="0.25">Percent survival</text>
<polyline points="296.30,237.60 338.76,237.60 338.76,250.97 346.85,250.97 346.85,277.71 352.92,277.71 352.92,291.08 354.94,291.08 354.94,304.45 363.03,304.45 363.03,317.82 367.07,317.82 367.07,331.19 369.09,331.19 369.09,344.56 371.11,344.56 371.11,357.93 397.40,357.93 397.40,371.30" fill="none" stroke="#111" stroke-width="1.25" stroke-linejoin="miter"/>
<polyline points="296.30,237.60 354.94,237.60 354.94,250.97 363.03,250.97 363.03,291.08 367.07,291.08 367.07,304.45 379.20,304.45 379.20,317.82 383.25,317.82 383.25,357.93 389.31,357.93 389.31,371.30" fill="none" stroke="#111" stroke-width="1.25" stroke-linejoin="miter"/>
<polyline points="296.30,237.60 354.94,237.60 354.94,250.97 363.03,250.97 363.03,264.34 371.11,264.34 371.11,291.08 379.20,291.08 379.20,304.45 381.22,304.45 381.22,317.82 383.25,317.82 383.25,331.19 387.29,331.19 387.29,344.56 391.33,344.56 391.33,357.93 401.44,357.93 401.44,371.30" fill="none" stroke="#111" stroke-width="1.25" stroke-linejoin="miter"/>
<polyline points="296.30,237.60 379.20,237.60 379.20,250.97 387.29,250.97 387.29,277.71 393.36,277.71 393.36,291.08 395.38,291.08 395.38,304.45 498.50,304.45" fill="none" stroke="#111" stroke-width="1.25" stroke-linejoin="miter"/>
<circle cx="338.76" cy="250.97" r="2.60" fill="#111"/>
<circle cx="346.85" cy="277.71" r="2.60" fill="#111"/>
<circle cx="352.92" cy="291.08" r="2.60" fill="#111"/>
<circle cx="354.94" cy="304.45" r="2.60" fill="#111"/>
<circle cx="363.03" cy="317.82" r="2.60" fill="#111"/>
<circle cx="367.07" cy="331.19" r="2.60" fill="#111"/>
<circle cx="369.09" cy="344.56" r="2.60" fill="#111"/>
<circle cx="371.11" cy="357.93" r="2.60" fill="#111"/>
<circle cx="397.40" cy="371.30" r="2.60" fill="#111"/>
<rect x="352.34" y="248.37" width="5.20" height="5.20" fill="#111"/>
<rect x="360.43" y="288.48" width="5.20" height="5.20" fill="#111"/>
<rect x="364.47" y="301.85" width="5.20" height="5.20" fill="#111"/>
<rect x="376.60" y="315.22" width="5.20" height="5.20" fill="#111"/>
<rect x="380.65" y="355.33" width="5.20" height="5.20" fill="#111"/>
<rect x="386.71" y="368.70" width="5.20" height="5.20" fill="#111"/>
<path d="M354.94,247.72L358.19,250.97L354.94,254.22L351.69,250.97Z" fill="#111"/>
<path d="M363.03,261.09L366.28,264.34L363.03,267.59L359.78,264.34Z" fill="#111"/>
<path d="M371.11,287.83L374.36,291.08L371.11,294.33L367.86,291.08Z" fill="#111"/>
<path d="M379.20,301.20L382.45,304.45L379.20,307.70L375.95,304.45Z" fill="#111"/>
<path d="M381.22,314.57L384.47,317.82L381.22,321.07L377.97,317.82Z" fill="#111"/>
<path d="M383.25,327.94L386.50,331.19L383.25,334.44L380.00,331.19Z" fill="#111"/>
<path d="M387.29,341.31L390.54,344.56L387.29,347.81L384.04,344.56Z" fill="#111"/>
<path d="M391.33,354.68L394.58,357.93L391.33,361.18L388.08,357.93Z" fill="#111"/>
<path d="M401.44,368.05L404.69,371.30L401.44,374.55L398.19,371.30Z" fill="#111"/>
<path d="M379.20,247.54L382.32,253.31L376.08,253.31Z" fill="#111"/>
<path d="M387.29,274.28L390.41,280.05L384.17,280.05Z" fill="#111"/>
<path d="M393.36,287.65L396.48,293.42L390.24,293.42Z" fill="#111"/>
<path d="M395.38,301.02L398.50,306.79L392.26,306.79Z" fill="#111"/>
<path d="M498.50,301.02L501.62,306.79L495.38,306.79Z" fill="#111"/>
<polyline points="503.20,304.45 506.20,304.45 506.20,371.30 503.20,371.30" fill="none" stroke="#333" stroke-width="1.0" stroke-linejoin="miter"/>
<line x1="512.50" y1="336.90" x2="512.50" y2="341.10" stroke="#111" stroke-width="1.1"/>
<line x1="510.68" y1="337.95" x2="514.32" y2="340.05" stroke="#111" stroke-width="1.1"/>
<line x1="514.32" y1="337.95" x2="510.68" y2="340.05" stroke="#111" stroke-width="1.1"/>
<text x="2.0" y="15.6" font-size="17.5" font-weight="bold" stroke="#111" stroke-width="0.5">A</text>
<text x="248.0" y="16.2" font-size="17.5" font-weight="bold" stroke="#111" stroke-width="0.5">B</text>
<text x="2.2" y="222.7" font-size="17.5" font-weight="bold" stroke="#111" stroke-width="0.5">C</text>
<text x="247.8" y="224.2" font-size="17.5" font-weight="bold" stroke="#111" stroke-width="0.5">D</text>
</svg></body></html>
